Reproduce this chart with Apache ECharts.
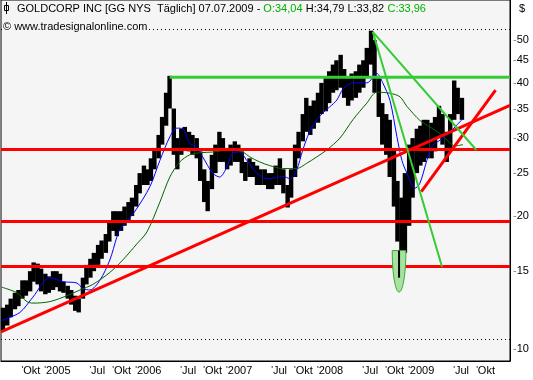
<!DOCTYPE html>
<html><head><meta charset="utf-8">
<script src="https://cdn.jsdelivr.net/npm/echarts@6/dist/echarts.min.js"></script>
<style>html,body{margin:0;padding:0;background:#fff}#c{width:533px;height:380px}</style>
</head><body><div id="c"></div><script>
// ---- price bars (semi-monthly ranges) ----
const barDates=['2004-07-15','2004-08-01','2004-08-15','2004-09-01','2004-09-15','2004-10-01','2004-10-15','2004-11-01','2004-11-15','2004-12-01','2004-12-15',
'2005-01-01','2005-01-15','2005-02-01','2005-02-15','2005-03-01','2005-03-15','2005-04-01','2005-04-15','2005-05-01','2005-05-15','2005-06-01','2005-06-15','2005-07-01','2005-07-15','2005-08-01','2005-08-15','2005-09-01','2005-09-15','2005-10-01','2005-10-15','2005-11-01','2005-11-15','2005-12-01','2005-12-15',
'2006-01-01','2006-01-15','2006-02-01','2006-02-15','2006-03-01','2006-03-15','2006-04-01','2006-04-15','2006-05-01','2006-05-15','2006-06-01','2006-06-15','2006-07-01','2006-07-15','2006-08-01','2006-08-15','2006-09-01','2006-09-15','2006-10-01','2006-10-15','2006-11-01','2006-11-15','2006-12-01','2006-12-15',
'2007-01-01','2007-01-15','2007-02-01','2007-02-15','2007-03-01','2007-03-15','2007-04-01','2007-04-15','2007-05-01','2007-05-15','2007-06-01','2007-06-15','2007-07-01','2007-07-15','2007-08-01','2007-08-15','2007-09-01','2007-09-15','2007-10-01','2007-10-15','2007-11-01','2007-11-15','2007-12-01','2007-12-15',
'2008-01-01','2008-01-15','2008-02-01','2008-02-15','2008-03-01','2008-03-15','2008-04-01','2008-04-15','2008-05-01','2008-05-15','2008-06-01','2008-06-15','2008-07-01','2008-07-15','2008-08-01','2008-08-15','2008-09-01','2008-09-15','2008-10-01','2008-10-15','2008-11-01','2008-11-15','2008-12-01','2008-12-15',
'2009-01-01','2009-01-15','2009-02-01','2009-02-15','2009-03-01','2009-03-15','2009-04-01','2009-04-15','2009-05-01','2009-05-15','2009-06-01','2009-06-15','2009-07-01','2009-07-15','2009-08-01'];
const barLows=[11.0,11.3,11.8,12.3,12.5,13.0,13.2,13.5,14.2,14.0,13.5,
13.3,13.4,13.6,13.8,13.5,13.4,13.0,12.6,12.2,12.1,13.0,14.0,14.5,15.0,15.5,16.0,16.5,17.5,18.5,18.0,18.5,19.0,19.5,20.0,
21.0,22.5,23.5,23.5,24.0,25.5,27.0,29.0,32.0,35.0,27.5,25.5,27.5,28.5,28.0,27.5,27.0,24.0,21.5,20.5,23.0,25.0,26.5,26.5,
25.5,26.0,26.5,26.5,25.0,24.0,24.5,24.5,23.5,23.5,23.5,23.0,23.0,23.5,23.5,22.5,20.9,22.0,24.5,27.0,29.5,31.0,30.5,31.5,
32.5,34.0,34.5,36.0,38.0,38.5,39.0,37.0,35.5,36.5,37.0,38.0,39.0,41.0,44.0,38.0,33.5,29.0,27.5,24.5,21.0,17.5,14.5,16.5,
19.0,22.0,25.0,26.0,26.5,27.0,27.0,28.0,30.0,29.0,26.5,28.5,33.0,34.0,33.0];
const barHighs=[12.4,12.6,13.0,13.4,13.6,14.3,14.3,15.0,15.7,15.6,15.2,
14.8,14.6,15.0,15.0,14.8,14.2,13.9,13.6,13.2,13.0,14.5,15.5,16.0,16.5,17.2,17.6,18.2,19.5,20.5,20.5,20.5,21.0,21.5,22.0,
23.5,25.0,26.0,25.5,27.0,28.5,30.5,33.5,38.0,41.5,35.0,30.0,31.5,31.8,31.0,30.5,30.0,28.0,25.5,24.0,27.5,29.0,31.0,30.0,
28.5,29.0,29.5,29.0,28.0,26.5,27.0,26.5,26.0,25.5,25.5,25.0,25.0,26.0,27.0,25.5,23.5,25.5,29.0,31.0,34.0,37.0,35.5,36.5,
38.0,40.0,41.0,42.5,44.0,45.0,46.3,43.0,41.0,42.0,42.5,44.0,45.0,48.0,52.5,50.0,41.0,36.0,34.0,33.0,28.5,24.0,22.0,25.0,
29.0,30.0,31.5,32.0,33.0,33.0,32.5,33.5,35.5,34.0,31.0,34.0,40.5,39.0,37.0];

// ---- moving averages ----
const blueDates=['2004-07-10','2004-09-21','2004-11-12','2005-01-19','2005-03-13','2005-05-08','2005-06-01','2005-06-29','2005-08-08','2005-09-17','2005-10-15','2005-10-27','2005-12-27','2006-02-25','2006-04-06','2006-05-16','2006-06-13','2006-07-07','2006-08-04','2006-09-01','2006-09-25','2006-11-04','2006-12-02','2006-12-31','2007-01-24','2007-02-21','2007-03-21','2007-04-30','2007-06-09','2007-07-19','2007-08-12','2007-09-09','2007-10-07','2007-10-31','2007-11-28','2007-12-27','2008-01-20','2008-02-17','2008-03-17','2008-04-10','2008-05-20','2008-07-15','2008-08-24','2008-09-17','2008-10-16','2008-11-13','2008-12-03','2008-12-23','2009-01-24','2009-02-13','2009-03-13','2009-04-02','2009-05-05','2009-06-02','2009-07-04','2009-08-05'];
const blueVals=[11.6,12.1,13.1,14.5,14.2,14.1,13.7,13.6,14.3,15.9,17.9,18.6,20.5,23.3,26.7,30.2,31.6,31.5,29.2,28.6,27.2,25.0,24.5,25.8,27.8,27.9,26.7,25.0,24.3,24.4,24.6,24.3,25.4,28.1,31.0,33.0,34.2,35.3,36.6,38.7,40.0,40.0,42.0,40.0,36.5,30.2,26.7,25.0,23.1,23.7,26.7,28.7,29.7,30.5,31.8,33.2];
const greenDates=['2004-07-10','2004-09-09','2004-10-19','2004-11-12','2005-01-19','2005-03-29','2005-05-20','2005-07-11','2005-09-17','2005-11-08','2006-01-04','2006-02-13','2006-04-06','2006-05-16','2006-06-25','2006-08-04','2006-09-13','2006-11-04','2007-01-12','2007-03-05','2007-04-02','2007-05-12','2007-06-21','2007-08-12','2007-10-07','2007-11-16','2007-12-27','2008-02-05','2008-03-29','2008-05-20','2008-07-15','2008-08-24','2008-10-16','2008-11-25','2008-12-23','2009-02-13','2009-03-25','2009-05-05','2009-06-02','2009-07-04','2009-08-05'];
const greenVals=[13.8,13.4,12.8,12.7,12.8,13.2,13.6,14.0,14.9,15.9,17.3,18.4,21.5,24.5,26.5,27.5,27.8,27.9,28.2,27.9,27.2,26.5,26.0,25.6,25.6,26.3,27.2,28.2,30.0,33.0,36.0,38.1,37.9,37.2,35.4,32.9,31.8,30.7,29.7,28.8,29.0];

// ---- drawn trend lines ----
const redTrendA=[['2004-07-07',10.93],['2010-02-10',35.6]];
const redTrendB=[['2009-02-19',22.7],['2009-12-14',38.5]];
const greenTrendA=[['2008-08-08',52.2],['2009-05-13',15.35]];
const greenTrendB=[['2008-08-08',52.2],['2009-09-28',28.2]];
const greenLevel=[['2006-05-15',41.2],['2010-02-10',41.2]];
const redLevels=[28.3,19.5,15.4];
const dottedLevels=[10.53,28.45,52.9];
const marker=[['2008-10-25','2008-12-19',16.7,13.45,14.5]]; // from, to, top, bottom, line end

// ---- axes ----
const yTicks=[10,15,20,25,30,35,40,45,50];
const xTickDates=['2004-10-01','2005-01-01','2005-07-01','2005-10-01','2006-01-01','2006-07-01','2006-10-01','2007-01-01','2007-07-01','2007-10-01','2008-01-01','2008-07-01','2008-10-01','2009-01-01','2009-07-01','2009-10-01'];
const xTickLabels=['Okt','2005','Jul','Okt','2006','Jul','Okt','2007','Jul','Okt','2008','Jul','Okt','2009','Jul','Okt'];
const xMin='2004-07-07', xMax='2010-02-10';

const T=s=>Date.parse(s+'T00:00:00Z');
const FONT='Liberation Sans';
const chart=echarts.init(document.getElementById('c'),null,{renderer:'canvas'});
const labelByTime={};
xTickDates.forEach((d,i)=>{labelByTime[T(d)]=xTickLabels[i];});
const pair=(a)=>a.map(p=>[T(p[0]),p[1]]);

const RED='#ff0000', LGREEN='#33cc33';
function seg(data,color,w){return {type:'line',data:pair(data),symbol:'none',silent:true,lineStyle:{color:color,width:w},z:5};}

chart.setOption({
  animation:false,
  backgroundColor:'#ffffff',
  grid:{left:1,right:23,top:0,bottom:19,show:true,backgroundColor:'#f5f5f5',borderColor:'#000',borderWidth:1},
  xAxis:{type:'value',min:T(xMin),max:T(xMax),
    axisLine:{show:true,onZero:false,lineStyle:{color:'#000'}},axisTick:{show:false},splitLine:{show:false},
    axisLabel:{customValues:xTickDates.map(T),align:'left',margin:4,fontFamily:FONT,fontSize:11,color:'#000',hideOverlap:false,showMinLabel:true,showMaxLabel:true,
      padding:[0,0,0,-1],
      formatter:function(v){return "{t|'}"+(labelByTime[v]||'');},
      rich:{t:{fontSize:9,fontFamily:FONT,color:'#000',padding:[0,0,3,0]}}}},
  yAxis:{type:'log',logBase:10,position:'right',min:9.394,max:61.6,
    axisLine:{show:true,lineStyle:{color:'#000'}},axisTick:{show:false},splitLine:{show:false},
    axisLabel:{customValues:yTicks,margin:3,fontFamily:FONT,fontSize:11,color:'#000',
      formatter:function(v){return '{d|-}'+v;},rich:{d:{color:'#808080',fontSize:11,fontFamily:FONT}}}},
  graphic:[
    {type:'line',shape:{x1:6.5,y1:2,x2:6.5,y2:14},style:{stroke:'#000',lineWidth:1}},
    {type:'rect',shape:{x:4.5,y:5.5,width:4,height:5},style:{fill:'none',stroke:'#000',lineWidth:1}},
    {type:'text',left:17,top:3,style:{text:'{a|GOLDCORP INC [GG NYS  Täglich] 07.07.2009 - }{g|O:34,04} {a|H:34,79 L:33,82} {g|C:33,96}',
      rich:{a:{fontFamily:FONT,fontSize:11,fill:'#000'},g:{fontFamily:FONT,fontSize:11,fill:'#00b000'}}}},
    {type:'text',left:3,top:21,z:10,style:{text:'© www.tradesignalonline.com',fontFamily:FONT,fontSize:11,fill:'#000',backgroundColor:'#f5f5f5',padding:[0,1,0,0]}},
    {type:'text',right:8,top:3,style:{text:'$',fontFamily:FONT,fontSize:11,fill:'#000'}}
  ],
  series:[
    {type:'custom',name:'GG',z:3,
      data:barDates.map((d,i)=>[T(d),barLows[i],barHighs[i]]),
      encode:{x:0,y:[1,2]},
      renderItem:function(params,api){
        const lo=api.coord([api.value(0),api.value(1)]);
        const hi=api.coord([api.value(0),api.value(2)]);
        const w=4.4;
        return {type:'rect',shape:{x:lo[0]-w/2,y:hi[1],width:w,height:lo[1]-hi[1]},style:{fill:'#000'}};
      },
      markLine:{silent:true,symbol:'none',label:{show:false},
        data:dottedLevels.map(v=>({yAxis:v,lineStyle:{color:'#000',type:[1,3],width:1}}))
          .concat(redLevels.map(v=>({yAxis:v,lineStyle:{color:RED,type:'solid',width:3}})))}},
    {type:'line',name:'MA1',data:blueDates.map((d,i)=>[T(d),blueVals[i]]),symbol:'none',smooth:0.3,lineStyle:{color:'#0000ff',width:1},z:4},
    {type:'line',name:'MA2',data:greenDates.map((d,i)=>[T(d),greenVals[i]]),symbol:'none',smooth:0.3,lineStyle:{color:'#006600',width:1},z:4},
    seg(redTrendA,RED,3),seg(redTrendB,RED,3),
    seg(greenTrendA,LGREEN,2),seg(greenTrendB,LGREEN,2),seg(greenLevel,LGREEN,3),
    {type:'custom',z:6,data:marker.map(m=>[T(m[0]),T(m[1]),m[2],m[3],m[4]]),
      encode:{x:[0,1],y:[2,3]},
      renderItem:function(params,api){
        const pL=api.coord([api.value(0),api.value(2)]);
        const pR=api.coord([api.value(1),api.value(2)]);
        const pB=api.coord([api.value(0),api.value(3)]);
        const pE=api.coord([api.value(0),api.value(4)]);
        const cx=(pL[0]+pR[0])/2, hw=(pR[0]-pL[0])/2, top=pL[1], h=pB[1]-pL[1];
        const pts=[];
        for(let k=0;k<=24;k++){const a=Math.PI*k/24;pts.push([cx+hw*Math.cos(a),top+h*Math.sin(a)]);}
        return {type:'group',children:[
          {type:'polygon',shape:{points:pts},style:{fill:'#a8e2a0',stroke:'#3aa83a',lineWidth:1}},
          {type:'line',shape:{x1:cx,y1:top,x2:cx,y2:pE[1]},style:{stroke:'#000',lineWidth:2}}
        ]};
      }}
  ]
});
</script></body></html>
